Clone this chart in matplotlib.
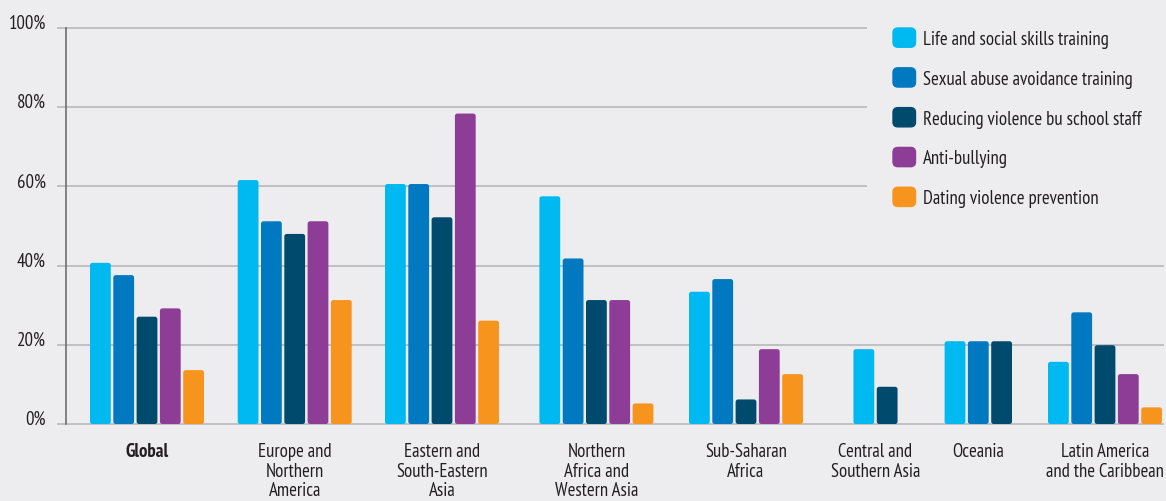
import numpy as np
import matplotlib
matplotlib.use("Agg")
import matplotlib.pyplot as plt
from matplotlib.patches import FancyBboxPatch
from matplotlib.legend_handler import HandlerPatch

plt.rcParams['font.family'] = ['PT Sans Narrow', 'DejaVu Sans']

# Data (percent of countries), NaN = not shown
regions = ["Global", "Europe and\nNorthern\nAmerica", "Eastern and\nSouth-Eastern\nAsia",
           "Northern\nAfrica and\nWestern Asia", "Sub-Saharan\nAfrica", "Central and\nSouthern Asia",
           "Oceania", "Latin America\nand the Caribbean"]
series = ["Life and social skills training", "Sexual abuse avoidance training",
          "Reducing violence bu school staff", "Anti-bullying", "Dating violence prevention"]
life_skills = [40.7, 61.6, 60.6, 57.5, 33.4, 18.9, 20.9, 15.7]
sexual_abuse = [37.6, 51.2, 60.6, 41.8, 36.6, np.nan, 20.9, 28.2]
school_staff = [27.1, 48.0, 52.2, 31.3, 6.2, 9.4, 20.9, 19.9]
anti_bullying = [29.2, 51.2, 78.4, 31.3, 18.9, np.nan, np.nan, 12.6]
dating = [13.6, 31.3, 26.1, 5.2, 12.6, np.nan, np.nan, 4.2]
yticks = [0, 20, 40, 60, 80, 100]

colors = ["#00b9f1", "#0079c1", "#004a6e", "#8e3d96", "#f7941e"]
bg = "#ededf0"
text_col = "#231f20"

# layout: x axis in pixel-like units
group_centers = [147, 294.7, 442, 596.4, 746, 875.5, 978.3, 1105]
pitch = 23.3
bar_w = 20.8

fig = plt.figure(figsize=(11.66, 5.02), dpi=100, facecolor=bg)
ax = fig.add_axes([66 / 1166, 77 / 502, 1100 / 1166, 396 / 502])
ax.set_facecolor(bg)
ax.set_xlim(66, 1166)
ax.set_ylim(0, 100)

values = np.array([life_skills, sexual_abuse, school_staff, anti_bullying, dating])
px_per_pct = 396 / 100

for g, cx in enumerate(group_centers):
    present = [s for s in range(len(series)) if not np.isnan(values[s, g])]
    n = len(present)
    for k, s in enumerate(present):
        x = cx + (k - (n - 1) / 2) * pitch
        bar = ax.bar(x, values[s, g], width=bar_w, color=colors[s], zorder=3)[0]
        bar.set_visible(False)
        rounded = FancyBboxPatch((bar.get_x(), 0), bar_w, values[s, g],
                                 boxstyle="round,pad=0,rounding_size=2.5",
                                 mutation_aspect=1 / px_per_pct,
                                 facecolor=colors[s], edgecolor="none", zorder=3)
        ax.add_patch(rounded)

# grid lines, the upper ones stop before the legend
for t in yticks:
    xmax = 867 if t >= 60 else 1164
    ax.hlines(t, 57, xmax, color="#b4b4b8", lw=1.1, zorder=1, clip_on=False)

for side in ["top", "right", "bottom"]:
    ax.spines[side].set_visible(False)
ax.spines["left"].set_color("#6d6e71")
ax.spines["left"].set_linewidth(1.2)

ax.set_yticks(yticks)
ax.set_yticklabels([f"{t}%" for t in yticks], fontsize=13.5, color=text_col)
for lbl in ax.get_yticklabels():
    lbl.set_va("baseline")
ax.tick_params(axis="y", length=0, pad=14.5)

ax.set_xticks(group_centers)
ax.set_xticklabels(regions, fontsize=13.5, color=text_col, linespacing=1.12)
ax.get_xticklabels()[0].set_fontweight("bold")
ax.tick_params(axis="x", length=0, pad=13)


def rounded_handle(legend, orig_handle, xdescent, ydescent, width, height, fontsize):
    return FancyBboxPatch((-xdescent, -ydescent), width, height,
                          boxstyle="round,pad=0,rounding_size=3.5")


handles = [plt.Rectangle((0, 0), 1, 1, color=c) for c in colors]
leg = fig.legend(handles, series, loc="upper left", bbox_to_anchor=(893 / 1166, 1 - 29 / 502),
                 frameon=False, fontsize=13.5, handlelength=1.2, handleheight=1.2,
                 handletextpad=0.4, labelspacing=1.06, borderpad=0, borderaxespad=0,
                 handler_map={plt.Rectangle: HandlerPatch(patch_func=rounded_handle)})
for t in leg.get_texts():
    t.set_color(text_col)

fig.savefig("out.png", dpi=100, facecolor=bg)
